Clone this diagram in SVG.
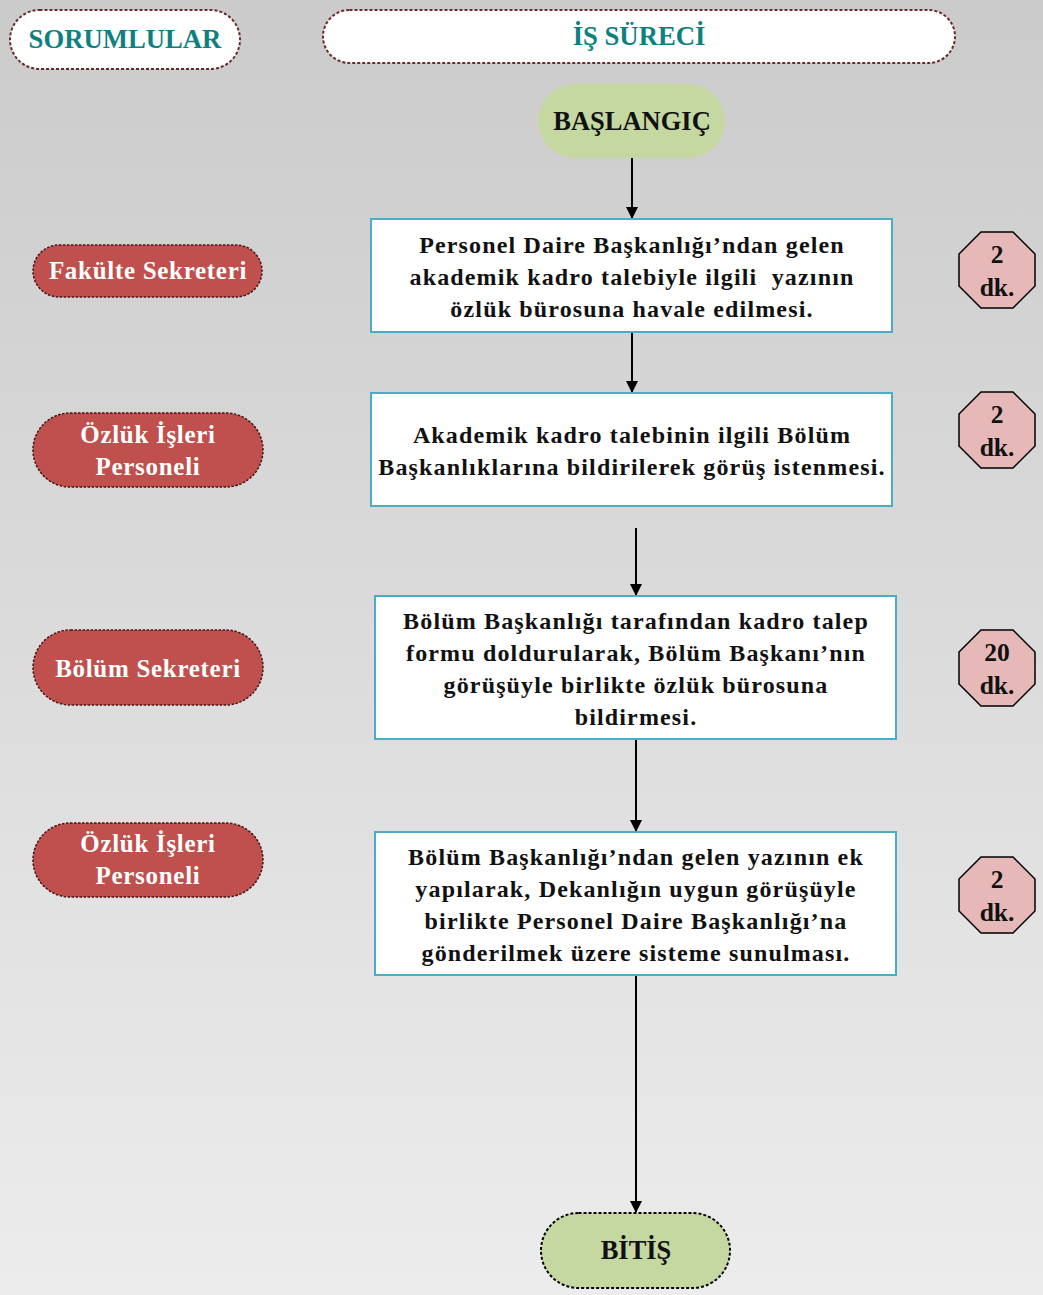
<svg xmlns="http://www.w3.org/2000/svg" width="1043" height="1295" viewBox="0 0 1043 1295">
<defs>
<linearGradient id="bg" x1="0" y1="0" x2="0" y2="1">
<stop offset="0" stop-color="#cbcbcb"/>
<stop offset="1" stop-color="#ececec"/>
</linearGradient>
<marker id="arr" markerWidth="12" markerHeight="12" refX="11" refY="6" orient="auto" markerUnits="userSpaceOnUse" viewBox="0 0 12 12">
<path d="M0,0 L12,6 L0,12 z" fill="#000"/>
</marker>
</defs>
<style>
text{font-family:"Liberation Serif","Times New Roman",serif;font-weight:bold;text-anchor:middle}
.hdr{fill:#fff;stroke:#6b2a2a;stroke-width:2;stroke-dasharray:3 2}
.hdrt{fill:#0e8080;font-size:26.7px}
.term{fill:#c5d8a2}
.termt{fill:#111;font-size:26.5px}
.box{fill:#fff;stroke:#4bacc6;stroke-width:2}
.boxt{fill:#111;font-size:24px;letter-spacing:1.15px}
.role{fill:#c0504d;stroke:#4a1515;stroke-width:1.5;stroke-dasharray:2.5 1.5}
.rolet{fill:#fff;font-size:25px;letter-spacing:0.7px}
.oct{fill:#e6b9b8;stroke:#000;stroke-width:1.5}
.octt{fill:#111;font-size:25.5px}
.con{stroke:#000;stroke-width:2;fill:none;marker-end:url(#arr)}
</style>
<rect width="1043" height="1295" fill="url(#bg)"/>

<g id="hdr-sorumlular">
<rect class="hdr" x="10" y="10" width="230" height="59" rx="29.5"/>
<text class="hdrt" x="125" y="48">SORUMLULAR</text>
</g>
<g id="hdr-is-sureci">
<rect class="hdr" x="323" y="10" width="632" height="53" rx="26.5"/>
<text class="hdrt" x="639" y="45">İŞ SÜRECİ</text>
</g>

<g id="connectors">
<line class="con" x1="632" y1="158" x2="632" y2="218"/>
<line class="con" x1="632" y1="333" x2="632" y2="392"/>
<line class="con" x1="636" y1="528" x2="636" y2="595"/>
<line class="con" x1="636" y1="740" x2="636" y2="831"/>
<line class="con" x1="636" y1="976" x2="636" y2="1212"/>
</g>

<g id="start">
<rect class="term" x="538" y="84" width="187" height="74" rx="37"/>
<text class="termt" x="632" y="130">BAŞLANGIÇ</text>
</g>

<g id="step1">
<rect class="box" x="371" y="219" width="521" height="113"/>
<text class="boxt" x="632" y="253">Personel Daire Başkanlığı’ndan gelen</text>
<text class="boxt" x="632" y="285">akademik kadro talebiyle ilgili&#160; yazının</text>
<text class="boxt" x="632" y="317">özlük bürosuna havale edilmesi.</text>
</g>
<g id="step2">
<rect class="box" x="371" y="393" width="521" height="113"/>
<text class="boxt" x="632" y="443">Akademik kadro talebinin ilgili Bölüm</text>
<text class="boxt" x="632" y="475">Başkanlıklarına bildirilerek görüş istenmesi.</text>
</g>
<g id="step3">
<rect class="box" x="375" y="596" width="521" height="143"/>
<text class="boxt" x="636" y="629">Bölüm Başkanlığı tarafından kadro talep</text>
<text class="boxt" x="636" y="661">formu doldurularak, Bölüm Başkanı’nın</text>
<text class="boxt" x="636" y="693">görüşüyle birlikte özlük bürosuna</text>
<text class="boxt" x="636" y="725">bildirmesi.</text>
</g>
<g id="step4">
<rect class="box" x="375" y="832" width="521" height="143"/>
<text class="boxt" x="636" y="865">Bölüm Başkanlığı’ndan gelen yazının ek</text>
<text class="boxt" x="636" y="897">yapılarak, Dekanlığın uygun görüşüyle</text>
<text class="boxt" x="636" y="929">birlikte Personel Daire Başkanlığı’na</text>
<text class="boxt" x="636" y="961">gönderilmek üzere sisteme sunulması.</text>
</g>

<g id="end">
<rect class="term" x="541" y="1213" width="189" height="75" rx="37.5" stroke="#000" stroke-width="2" stroke-dasharray="3 2"/>
<text class="termt" x="636" y="1259">BİTİŞ</text>
</g>

<g id="role1">
<rect class="role" x="33" y="245" width="229" height="52" rx="26"/>
<text class="rolet" x="148" y="279">Fakülte Sekreteri</text>
</g>
<g id="role2">
<rect class="role" x="33" y="413" width="230" height="74" rx="37"/>
<text class="rolet" x="148" y="443">Özlük İşleri</text>
<text class="rolet" x="148" y="475">Personeli</text>
</g>
<g id="role3">
<rect class="role" x="33" y="630" width="230" height="75" rx="37.5"/>
<text class="rolet" x="148" y="677">Bölüm Sekreteri</text>
</g>
<g id="role4">
<rect class="role" x="33" y="823" width="230" height="74" rx="37"/>
<text class="rolet" x="148" y="852">Özlük İşleri</text>
<text class="rolet" x="148" y="884">Personeli</text>
</g>

<g id="time1">
<polygon class="oct" points="981,232 1013,232 1035,254 1035,286 1013,308 981,308 959,286 959,254"/>
<text class="octt" x="997" y="263">2</text>
<text class="octt" x="997" y="296">dk.</text>
</g>
<g id="time2">
<polygon class="oct" points="981,392 1013,392 1035,414 1035,446 1013,468 981,468 959,446 959,414"/>
<text class="octt" x="997" y="423">2</text>
<text class="octt" x="997" y="456">dk.</text>
</g>
<g id="time3">
<polygon class="oct" points="981,630 1013,630 1035,652 1035,684 1013,706 981,706 959,684 959,652"/>
<text class="octt" x="997" y="661">20</text>
<text class="octt" x="997" y="694">dk.</text>
</g>
<g id="time4">
<polygon class="oct" points="981,857 1013,857 1035,879 1035,911 1013,933 981,933 959,911 959,879"/>
<text class="octt" x="997" y="888">2</text>
<text class="octt" x="997" y="921">dk.</text>
</g>
</svg>
